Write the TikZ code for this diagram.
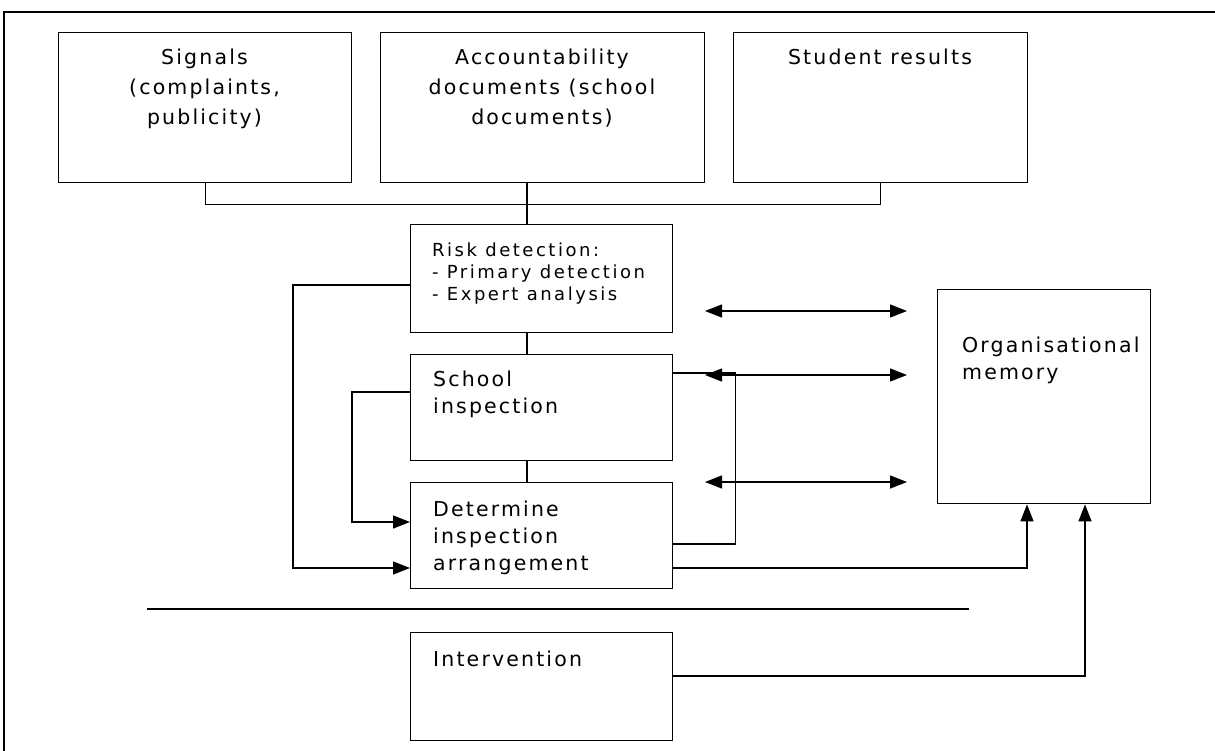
\documentclass[tikz,border=0pt]{standalone}
\usepackage{fontspec}
\setmainfont{DejaVu Sans}[LetterSpace=10.5]
\newfontfamily\riskfont{DejaVu Sans}[LetterSpace=14]
\newfontfamily\orgfont{DejaVu Sans}[LetterSpace=10.5]
\usetikzlibrary{arrows.meta}
\begin{document}
\begin{tikzpicture}[x=1pt,y=-1pt,
  box/.style={draw, line width=1.4pt, inner sep=0pt, anchor=north west},
  txt/.style={inner sep=0pt, font=\fontsize{20.5}{27}\selectfont, align=left, anchor=north west},
  rtxt/.style={inner sep=0pt, font=\riskfont\fontsize{18}{22}\selectfont, align=left, anchor=north west},
  ctxt/.style={inner sep=0pt, font=\fontsize{20.5}{30}\selectfont, align=center, anchor=north},
  conn/.style={line width=1.4pt},
  arr/.style={conn, -{Triangle[length=17pt,width=13pt]}},
  darr/.style={conn, {Triangle[length=17pt,width=13pt]}-{Triangle[length=17pt,width=13pt]}},
  frame/.style={line width=2.4pt}
]
\useasboundingbox (0,0) rectangle (1215,751);
% frame
\draw[frame] (4,751) -- (4,12) -- (1215,12);
% boxes
\node[box, minimum width=293pt, minimum height=150pt] (signals) at (58,32) {};
\node[box, minimum width=324pt, minimum height=150pt] (acc) at (380,32) {};
\node[box, minimum width=294pt, minimum height=150pt] (student) at (733,32) {};
\node[box, minimum width=262pt, minimum height=108pt] (risk) at (410,224) {};
\node[box, minimum width=262pt, minimum height=106pt] (school) at (410,354) {};
\node[box, minimum width=262pt, minimum height=106pt] (determine) at (410,482) {};
\node[box, minimum width=262pt, minimum height=108pt] (interv) at (410,632) {};
\node[box, minimum width=213pt, minimum height=214pt] (org) at (937,289) {};
% texts
\node[ctxt] (signals-t) at (204.5,49) {Signals\\(complaints,\\publicity)};
\node[ctxt] (acc-t) at (542,49) {Accountability\\documents (school\\documents)};
\node[ctxt] (student-t) at (880,49) {Student results};
\node[rtxt] (risk-t) at (432,243) {Risk detection:\\- Primary detection\\- Expert analysis};
\node[txt] (school-t) at (433,371) {School\\inspection};
\node[txt] (determine-t) at (433,501) {Determine\\inspection\\arrangement};
\node[txt] (interv-t) at (433,651) {Intervention};
\node[txt] (org-t) at (962,337) {Organisational\\memory};
% spine
\coordinate (spine) at (527,0);
\draw[conn] (signals.south) -- ++(0,21) -| (student.south);
\draw[conn] (acc.south -| spine) -- (risk.north -| spine);
\draw[conn] (risk.south -| spine) -- (school.north -| spine);
\draw[conn] (school.south -| spine) -- (determine.north -| spine);
% left loops
\draw[arr] ([yshift=-61pt]risk.north west) -| ([xshift=-117pt,yshift=-86pt]determine.north west) -- ([yshift=-86pt]determine.north west);
\draw[arr] ([yshift=-38pt]school.north west) -| ([xshift=-58pt,yshift=-40pt]determine.north west) -- ([yshift=-40pt]determine.north west);
% right loop
\draw[conn] ([yshift=-19pt]school.north east) -| ([xshift=62pt,yshift=-62pt]determine.north east) -- ([yshift=-62pt]determine.north east);
% to memory
\draw[arr] ([yshift=-86pt]determine.north east) -| ([xshift=90pt]org.south west);
\draw[arr] ([yshift=-44pt]interv.north east) -| ([xshift=148pt]org.south west);
% double arrows
\coordinate (a1l) at (705,311); \coordinate (a1r) at (907,311);
\coordinate (a2l) at (705,375); \coordinate (a2r) at (907,375);
\coordinate (a3l) at (705,482); \coordinate (a3r) at (907,482);
\draw[darr] (a1l) -- (a1r);
\draw[darr] (a2l) -- (a2r);
\draw[darr] (a3l) -- (a3r);
% separator
\coordinate (sepl) at (147,609); \coordinate (sepr) at (969,609);
\draw[conn] (sepl) -- (sepr);
\end{tikzpicture}
\end{document}
